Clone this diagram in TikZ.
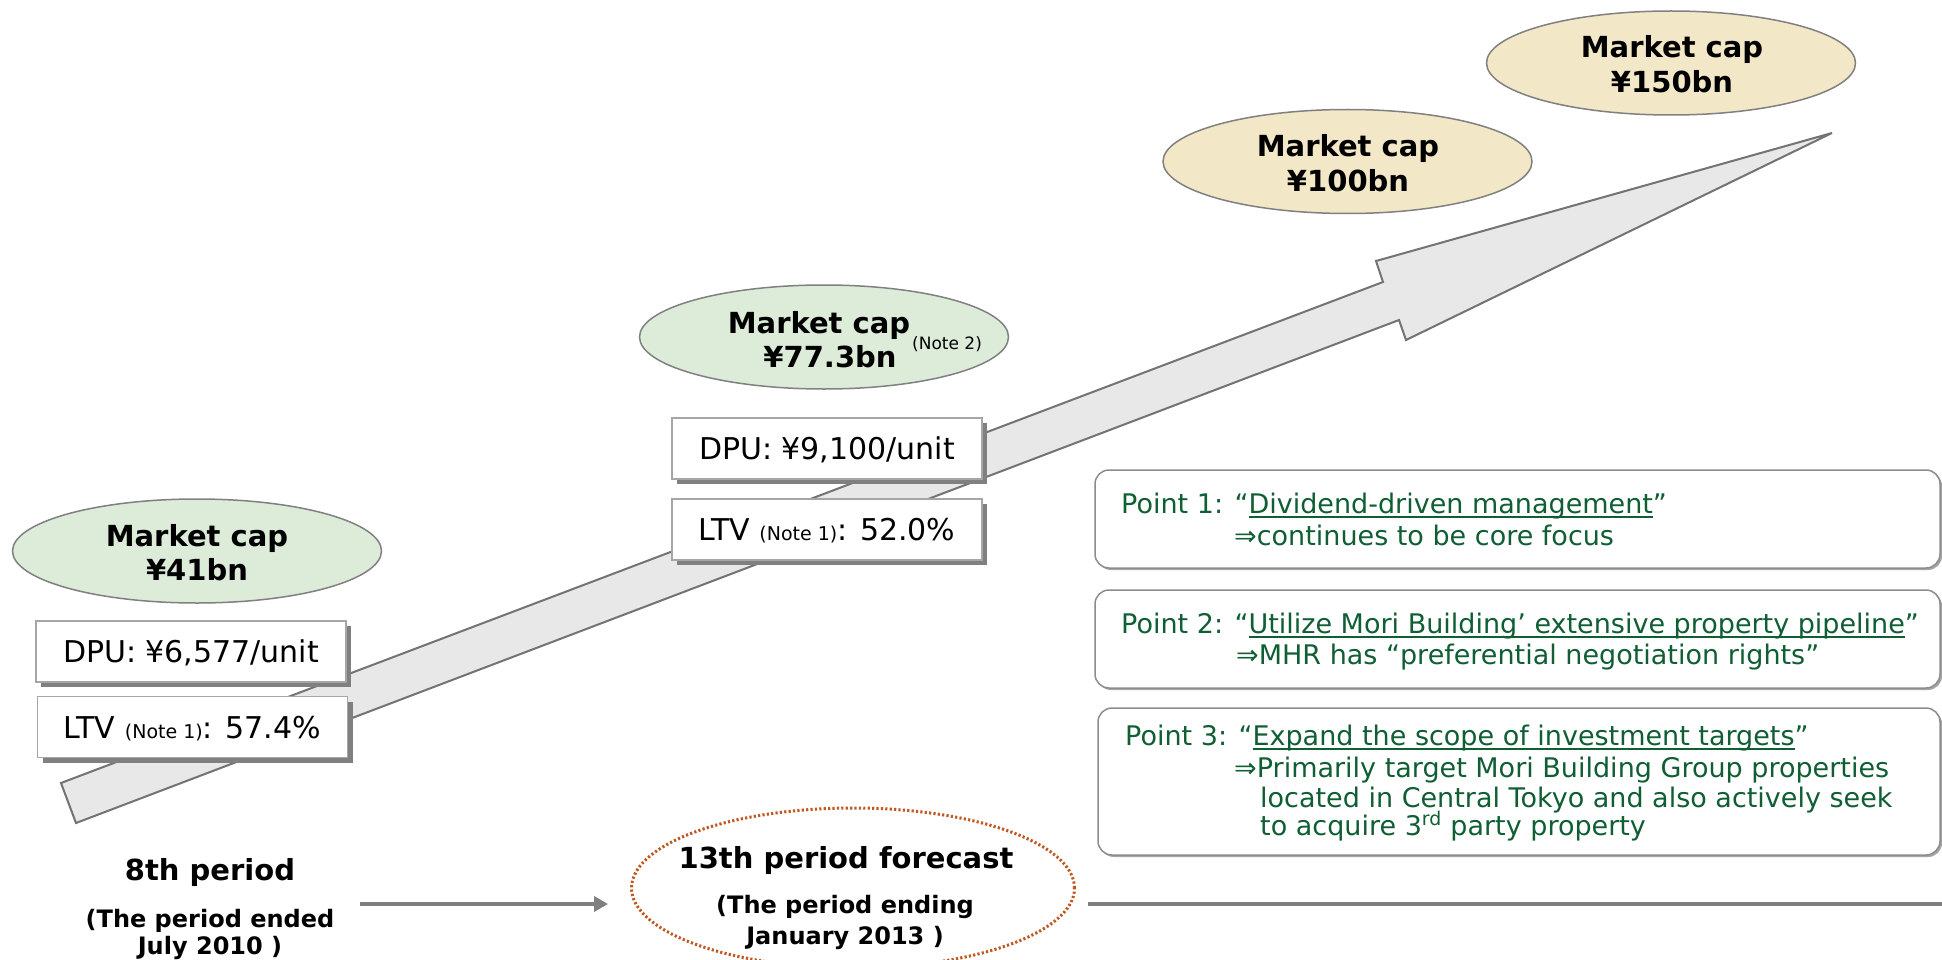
\documentclass[tikz,border=0pt]{standalone}
\usepackage{fontspec}
\setmainfont{DejaVu Sans}
\usetikzlibrary{shapes.geometric,arrows.meta,shadows}
\definecolor{ptgreen}{RGB}{16,94,52}
\definecolor{capgreen}{RGB}{221,235,217}
\definecolor{capochre}{RGB}{242,231,198}
\definecolor{rust}{RGB}{192,88,34}
\definecolor{edgegray}{RGB}{128,128,128}
\newcommand\fs[1]{\fontsize{#1}{#1}\selectfont}
\newcommand\myul[1]{\setbox0\hbox{#1}\rlap{\rule[-4.5pt]{\wd0}{1.4pt}}\box0}
\tikzset{
  capell/.style={ellipse,draw=edgegray,line width=1.5pt,minimum width=369pt,minimum height=104pt,inner sep=0pt},
  capG/.style={capell,fill=capgreen},
  capO/.style={capell,fill=capochre},
  captxt/.style={anchor=base,inner sep=0pt,font=\bfseries\fs{29}},
  notetxt/.style={anchor=base west,inner sep=0pt,font=\fs{17}},
  databox/.style={draw=black!35,fill=white,line width=1.5pt,minimum width=310pt,minimum height=61pt,
     inner sep=0pt,font=\fs{30},text height=22pt,text depth=0pt,
     drop shadow={shadow xshift=5pt,shadow yshift=-5pt,fill=black!50,opacity=1}},
  arrowbody/.style={draw=black!55,line width=2pt,fill=black!9,line join=miter},
  pertxt/.style={anchor=base,inner sep=0pt,font=\bfseries\fs{29}},
  persub/.style={anchor=base,inner sep=0pt,font=\bfseries\fs{24}},
  fcell/.style={ellipse,draw=rust,line width=3pt,dash pattern=on 2.2pt off 2.2pt,minimum width=443pt,minimum height=160pt,inner sep=0pt},
  tline/.style={draw=black!50,line width=4pt},
  ptbox/.style={draw=black!45,fill=white,line width=1.5pt,rounded corners=14pt,inner sep=0pt,
     drop shadow={shadow xshift=2pt,shadow yshift=-2pt,fill=black!35,opacity=1}},
  pt/.style={anchor=base west,inner sep=0pt,font=\fs{27},text=ptgreen},
}
\begin{document}
\begin{tikzpicture}[x=1pt,y=-1pt]
\useasboundingbox (0,0) rectangle (1942,960);
\clip (0,0) rectangle (1942,960);
\fill[white] (0,0) rectangle (1942,960);

% big rising arrow
\draw[arrowbody] (61,783) -- (1383,282) -- (1376,261) -- (1832,133) -- (1406,340) -- (1399,320) -- (76,823) -- cycle;

% market cap ellipses
\node[capG] (c41) at (197,551) {};
\node[captxt] (c41a) at (197,546) {Market cap};
\node[captxt] (c41b) at (197,580) {¥41bn};

\node[capG] (c77) at (824,337) {};
\node[captxt] (c77a) at (819,333) {Market cap};
\node[notetxt] (c77n) at (912,349) {(Note 2)};
\node[captxt] (c77b) at (830,367) {¥77.3bn};

\node[capO] (c100) at (1347.5,161.5) {};
\node[captxt] (c100a) at (1348,157) {Market cap};
\node[captxt] (c100b) at (1348,191) {¥100bn};

\node[capO] (c150) at (1671,63) {};
\node[captxt] (c150a) at (1672,58) {Market cap};
\node[captxt] (c150b) at (1672,93) {¥150bn};

% data boxes
\node[databox] (d1) at (191,651.5) {DPU: ¥6,577/unit};
\node[databox] (l1) at (192.5,727) {LTV {\fs{19}(Note 1)}: 57.4\%};
\node[databox] (d2) at (827,448.5) {DPU: ¥9,100/unit};
\node[databox] (l2) at (827,529.5) {LTV {\fs{19}(Note 1)}: 52.0\%};

% periods
\node[pertxt] (p8a) at (210,880) {8th period};
\node[persub] (p8b) at (210,927) {(The period ended};
\node[persub] (p8c) at (210,954) {July 2010 )};

\node[fcell] (e13) at (853,888) {};
\node[pertxt] (p13a) at (846,868) {13th period forecast};
\node[persub] (p13b) at (845,913) {(The period ending};
\node[persub] (p13c) at (845,944) {January 2013 )};

\coordinate (a1s) at (360,904);
\coordinate (a1e) at (608,904);
\draw[tline,-{Triangle[length=14pt,width=15pt]}] (a1s) -- (a1e);
\coordinate (a2s) at (1088,904);
\coordinate (a2e) at (1950,904);
\draw[tline] (a2s) -- (a2e);

% point boxes
\node[ptbox,minimum width=845pt,minimum height=98pt] (b1) at (1517.5,519) {};
\node[ptbox,minimum width=845pt,minimum height=98pt] (b2) at (1517.5,639) {};
\node[ptbox,minimum width=842pt,minimum height=147pt] (b3) at (1519,781.5) {};

\node[pt] (t1a) at (1121,513) {Point 1: “\myul{Dividend-driven management}”};
\node[pt] (t1b) at (1234,545) {⇒continues to be core focus};
\node[pt] (t2a) at (1121,633) {Point 2: “\myul{Utilize Mori Building’ extensive property pipeline}”};
\node[pt] (t2b) at (1236,664) {⇒MHR has “preferential negotiation rights”};
\node[pt] (t3a) at (1125,745) {Point 3: “\myul{Expand the scope of investment targets}”};
\node[pt] (t3b) at (1234,777) {⇒Primarily target Mori Building Group properties};
\node[pt] (t3c) at (1260,807) {located in Central Tokyo and also actively seek};
\node[pt] (t3d) at (1260,835) {to acquire 3\textsuperscript{rd} party property};
\end{tikzpicture}
\end{document}
